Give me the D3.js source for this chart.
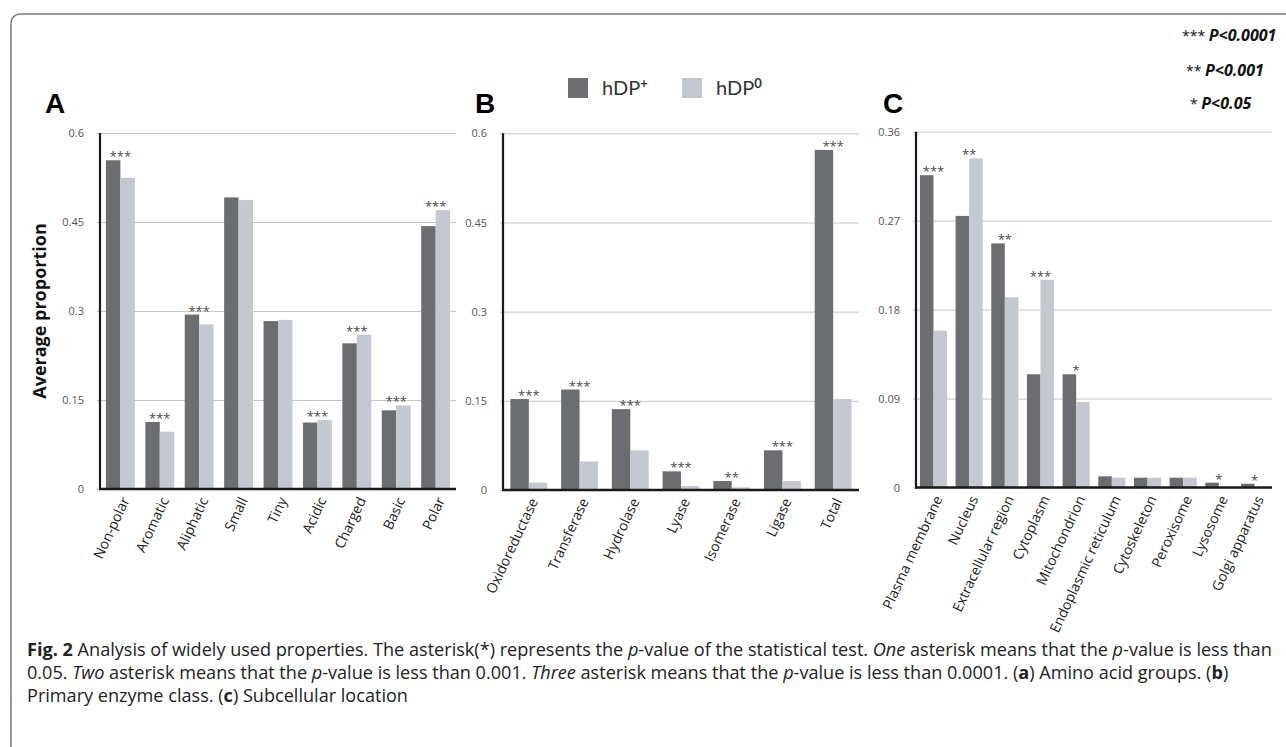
<!DOCTYPE html>
<html>
<head>
<meta charset="utf-8">
<script src="https://cdn.jsdelivr.net/npm/d3@7"></script>
<style>
body { margin: 0; background: #fff; }
svg text { font-family: "Open Sans", sans-serif; }
</style>
</head>
<body>
<svg id="fig" width="1286" height="747"></svg>
<script>
// A: amino acid groups
const aminoGroups = ["Non-polar", "Aromatic", "Aliphatic", "Small", "Tiny", "Acidic", "Charged", "Basic", "Polar"];
const aminoPlus = [0.554, 0.113, 0.294, 0.4915, 0.283, 0.112, 0.2455, 0.1326, 0.443];
const aminoZero = [0.5245, 0.0966, 0.2775, 0.487, 0.285, 0.116, 0.260, 0.141, 0.470];
const aminoStars = ["***", "***", "***", "", "", "***", "***", "***", "***"];
const aminoTicks = [0, 0.15, 0.3, 0.45, 0.6];

// B: primary enzyme class
const enzymeClasses = ["Oxidoreductase", "Transferase", "Hydrolase", "Lyase", "Isomerase", "Ligase", "Total"];
const enzymePlus = [0.153, 0.169, 0.136, 0.0314, 0.0151, 0.0667, 0.572];
const enzymeZero = [0.0123, 0.048, 0.0667, 0.0067, 0.0045, 0.0151, 0.153];
const enzymeStars = ["***", "***", "***", "***", "**", "***", "***"];
const enzymeTicks = [0, 0.15, 0.3, 0.45, 0.6];

// C: subcellular location
const locations = ["Plasma membrane", "Nucleus", "Extracellular region", "Cytoplasm", "Mitochondrion",
	"Endoplasmic reticulum", "Cytoskeleton", "Peroxisome", "Lysosome", "Golgi apparatus"];
const locationPlus = [0.316, 0.2748, 0.247, 0.1146, 0.1146, 0.0113, 0.0099, 0.0099, 0.0049, 0.0038];
const locationZero = [0.1587, 0.333, 0.1925, 0.210, 0.0865, 0.0099, 0.0099, 0.0099, 0.0006, 0.0004];
const locationStars = ["***", "**", "**", "***", "*", "", "", "", "*", "*"];
const locationTicks = [0, 0.09, 0.18, 0.27, 0.36];

const seriesNames = ["hDP", "hDP"];
const seriesSup = ["+", "0"];
const keyStars = ["***", "**", "*"];
const keyLabels = ["P<0.0001", "P<0.001", "P<0.05"];

const colors = ["#6c6d71", "#c4c8d0"];

const svg = d3.select("#fig");

// outer frame of the figure
svg.append("rect")
	.attr("x", 11).attr("y", 14)
	.attr("width", 1320).attr("height", 780)
	.attr("rx", 9)
	.attr("fill", "none")
	.attr("stroke", "#7a7a7a")
	.attr("stroke-width", 1.5);

function drawPanel(p) {
	const x = d3.scaleBand().domain(p.cats).range(p.xr).paddingInner(p.pi).paddingOuter(p.po);
	const sub = d3.scaleBand().domain([0, 1]).range([0, x.bandwidth()]);
	const y = d3.scaleLinear().domain([0, p.ticks[p.ticks.length - 1]]).range(p.yr);
	const w = p.xr[1] - p.xr[0];
	const g = svg.append("g");

	// grid lines + tick labels
	const grid = g.append("g")
		.attr("transform", `translate(${p.xr[0]},0)`)
		.call(d3.axisLeft(y).tickValues(p.ticks).tickSize(-w).tickSizeOuter(0).tickPadding(16)
			.tickFormat(d => String(d)));
	grid.select(".domain").remove();
	grid.selectAll(".tick line").attr("x1", -3).attr("stroke", "#c6c6c6");
	grid.selectAll(".tick text")
		.attr("fill", "#555")
		.style("font-size", "11px")
		.style("font-family", "'Open Sans', sans-serif");

	// bars
	const rows = p.cats.map((c, i) => ({ c: c, v: [p.plus[i], p.zero[i]], s: p.stars[i] }));
	const grp = g.selectAll(".grp").data(rows).enter().append("g")
		.attr("transform", d => `translate(${x(d.c)},0)`);
	grp.selectAll("rect").data(d => d.v).enter().append("rect")
		.attr("x", (d, i) => sub(i))
		.attr("width", sub.bandwidth())
		.attr("y", d => y(d))
		.attr("height", d => y(0) - y(d))
		.attr("fill", (d, i) => colors[i]);

	// significance stars
	grp.append("text")
		.attr("x", x.bandwidth() / 2)
		.attr("y", d => y(d3.max(d.v)) + 1)
		.attr("text-anchor", "middle")
		.attr("fill", "#4a4a4a")
		.style("font-size", "13px")
		.text(d => d.s);

	// axis lines
	g.append("line")
		.attr("x1", p.xr[0]).attr("x2", p.xr[0])
		.attr("y1", p.yr[0] + 1).attr("y2", p.yr[1])
		.attr("stroke", "#1a1a1a").attr("stroke-width", 2.2);
	g.append("line")
		.attr("x1", p.xr[0] - 1).attr("x2", p.xr[1])
		.attr("y1", p.yr[0]).attr("y2", p.yr[0])
		.attr("stroke", "#1a1a1a").attr("stroke-width", 2.5);

	// category labels
	g.selectAll(".lab").data(p.cats).enter().append("text")
		.attr("transform", d => `translate(${x(d) + x.bandwidth() / 2 + 5},${p.yr[0] + 9}) rotate(-65)`)
		.attr("dy", "0.35em")
		.attr("text-anchor", "end")
		.attr("fill", "#222")
		.style("font-size", "14px")
		.text(d => d);

	// panel letter
	svg.append("text")
		.attr("x", p.letterX).attr("y", 113)
		.style("font-family", "'Liberation Sans', Arial, sans-serif")
		.style("font-weight", "bold")
		.style("font-size", "28px")
		.attr("fill", "#000")
		.text(p.letter);
}

drawPanel({ cats: aminoGroups, plus: aminoPlus, zero: aminoZero, stars: aminoStars, ticks: aminoTicks,
	xr: [100, 456], yr: [489, 133], pi: 0.267, po: 0.15, letter: "A", letterX: 45 });
drawPanel({ cats: enzymeClasses, plus: enzymePlus, zero: enzymeZero, stars: enzymeStars, ticks: enzymeTicks,
	xr: [503, 859], yr: [490, 133.3], pi: 0.273, po: 0.146, letter: "B", letterX: 475 });
drawPanel({ cats: locations, plus: locationPlus, zero: locationZero, stars: locationStars, ticks: locationTicks,
	xr: [916, 1272], yr: [487.5, 131.7], pi: 0.24, po: 0.11, letter: "C", letterX: 883 });

// y axis title
svg.append("text")
	.attr("transform", "translate(46,311) rotate(-90)")
	.attr("text-anchor", "middle")
	.style("font-weight", "bold")
	.style("font-size", "18px")
	.attr("fill", "#111")
	.text("Average proportion");

// legend
const leg = svg.append("g").selectAll("g").data(seriesNames).enter().append("g")
	.attr("transform", (d, i) => `translate(${568 + i * 114},78)`);
leg.append("rect").attr("width", 20).attr("height", 20).attr("fill", (d, i) => colors[i]);
const legText = leg.append("text")
	.attr("x", 34).attr("y", 17)
	.attr("fill", "#333")
	.style("font-family", "Lato, sans-serif")
	.style("font-size", "20px");
legText.append("tspan").text(d => d);
legText.append("tspan")
	.attr("dy", -7)
	.style("font-size", "13px")
	.style("font-weight", "bold")
	.text((d, i) => seriesSup[i]);

// p-value key
const key = svg.append("g").selectAll("text").data(keyLabels).enter().append("text")
	.attr("x", (d, i) => 1182 + i * 4)
	.attr("y", (d, i) => [41, 76, 109][i])
	.attr("fill", "#111");
key.append("tspan").style("font-size", "14px").text((d, i) => keyStars[i] + " ");
key.append("tspan")
	.style("font-size", "16px")
	.style("font-weight", "bold")
	.style("font-style", "italic")
	.text(d => d);

// caption
const captionLines = [
	[["Fig. 2", "b"], [" Analysis of widely used properties. The asterisk(*) represents the ", ""], ["p", "i"],
		["-value of the statistical test. ", ""], ["One", "i"], [" asterisk means that the ", ""], ["p", "i"],
		["-value is less than", ""]],
	[["0.05. ", ""], ["Two", "i"], [" asterisk means that the ", ""], ["p", "i"],
		["-value is less than 0.001. ", ""], ["Three", "i"], [" asterisk means that the ", ""], ["p", "i"],
		["-value is less than 0.0001. (", ""], ["a", "b"], [") Amino acid groups. (", ""], ["b", "b"], [")", ""]],
	[["Primary enzyme class. (", ""], ["c", "b"], [") Subcellular location", ""]]
];
const cap = svg.append("g").selectAll("text").data(captionLines).enter().append("text")
	.attr("x", 27)
	.attr("y", (d, i) => 656 + i * 23)
	.attr("fill", "#222")
	.style("font-size", "15px");
cap.selectAll("tspan").data(d => d).enter().append("tspan")
	.style("font-weight", d => d[1] === "b" ? "bold" : "normal")
	.style("font-style", d => d[1] === "i" ? "italic" : "normal")
	.text(d => d[0]);
// fit first line to the printed width
const first = cap.node().getComputedTextLength();
cap.style("font-size", (15 * 1245 / first).toFixed(2) + "px");
</script>
</body>
</html>
